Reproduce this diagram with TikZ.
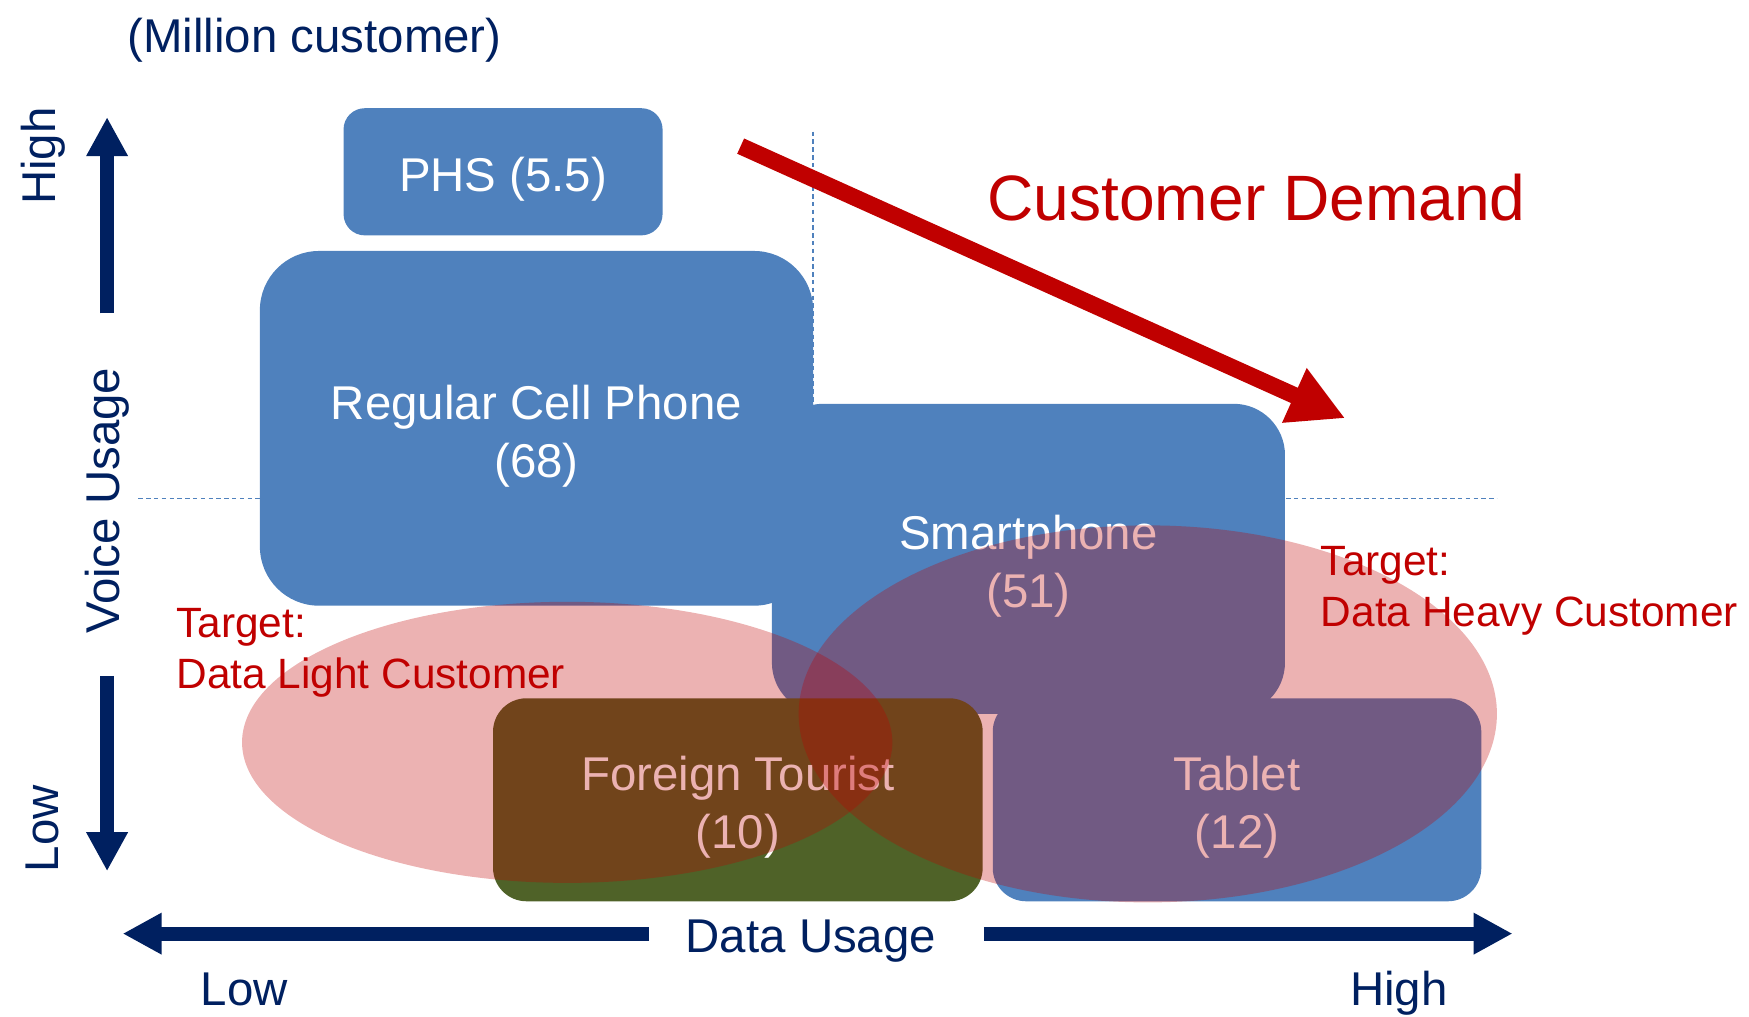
\documentclass[tikz,border=0pt]{standalone}
\usepackage{fontspec}
\setmainfont{Liberation Sans}
\usetikzlibrary{arrows.meta,shapes.geometric}
\definecolor{navy}{HTML}{002060}
\definecolor{boxblue}{HTML}{4F81BD}
\definecolor{tourgreen}{HTML}{4F6228}
\definecolor{demandred}{HTML}{C00000}
\tikzset{
  seg/.style={fill=boxblue,inner sep=0pt},
  segtxt/.style={text=white,align=center,inner sep=0pt,yshift=-7pt,
    font=\fontsize{42.5}{52}\selectfont},
  target/.style={ellipse,fill=demandred,fill opacity=0.3,inner sep=0pt},
  axis/.style={navy,line width=12.5pt,-{Triangle[width=35pt,length=35pt]}},
  demand/.style={demandred,line width=15pt,-{Triangle[width=50pt,length=50pt]}},
  guide/.style={boxblue,line width=1.2pt,dash pattern=on 4pt off 3pt},
  lbl/.style={navy,inner sep=0pt,font=\fontsize{42.5}{52}\selectfont},
  tlbl/.style={demandred,inner sep=0pt,align=left,anchor=west,
    font=\fontsize{38}{46}\selectfont}
}
\begin{document}
\begin{tikzpicture}[x=1pt,y=-1pt]
  \useasboundingbox (0,0) rectangle (1568,911);
  % guide lines
  \draw [guide] (729,118) -- (729,595);
  \draw [guide] (124,447) -- (1342,447);
  % segments
  \node [seg,minimum width=286pt,minimum height=114pt,rounded corners=19pt] (phs) at (451,154) {};
  \node [seg,minimum width=460pt,minimum height=278pt,rounded corners=46pt] (smart) at (922,501) {};
  \node [seg,minimum width=496pt,minimum height=318pt,rounded corners=53pt] (regular) at (481,384) {};
  \node [seg,fill=tourgreen,minimum width=439pt,minimum height=182pt,rounded corners=30pt] (tourist) at (661.5,717) {};
  \node [seg,minimum width=438pt,minimum height=182pt,rounded corners=30pt] (tablet) at (1109,717) {};
  \node [segtxt] (phstxt) at (phs) {PHS (5.5)};
  \node [segtxt] (smarttxt) at (smart) {Smartphone\\(51)};
  \node [segtxt] (regulartxt) at (regular) {Regular Cell Phone\\(68)};
  \node [segtxt] (touristtxt) at (tourist) {Foreign Tourist\\(10)};
  \node [segtxt] (tablettxt) at (tablet) {Tablet\\(12)};
  % target groups
  \node [target,minimum width=583pt,minimum height=252pt] (lightell) at (508.5,665.5) {};
  \node [target,minimum width=626pt,minimum height=338pt] (heavyell) at (1029,640) {};
  \node [tlbl] (lighttxt) at (158,585.5) {Target:\\Data Light Customer};
  \node [tlbl] (heavytxt) at (1184,529.5) {Target:\\Data Heavy Customer};
  % demand arrow
  \coordinate (dstart) at (664,131);
  \coordinate (dend) at (1206,375);
  \draw [demand] (dstart) -- (dend);
  \node [demandred,inner sep=0pt,font=\fontsize{57.5}{64}\selectfont] (demandtxt) at (1126.5,177) {Customer Demand};
  % axes
  \coordinate (vhigh) at (96,105);
  \coordinate (vup) at (96,281);
  \coordinate (vdown) at (96,606);
  \coordinate (vlow) at (96,781);
  \coordinate (hlow) at (110,837);
  \coordinate (hleft) at (582,837);
  \coordinate (hright) at (882,837);
  \coordinate (hhigh) at (1356,837);
  \draw [axis] (vup) -- (vhigh);
  \draw [axis] (vdown) -- (vlow);
  \draw [axis] (hleft) -- (hlow);
  \draw [axis] (hright) -- (hhigh);
  \node [lbl] (unit) at (282,36) {(Million customer)};
  \node [lbl,rotate=90] (yhigh) at (39,140) {High};
  \node [lbl,rotate=90] (ylabel) at (96,449) {Voice Usage};
  \node [lbl,rotate=90] (ylow) at (38,743) {Low};
  \node [lbl] (xlabel) at (727,844) {Data Usage};
  \node [lbl] (xlow) at (219,887) {Low};
  \node [lbl] (xhigh) at (1254,890) {High};
\end{tikzpicture}
\end{document}
